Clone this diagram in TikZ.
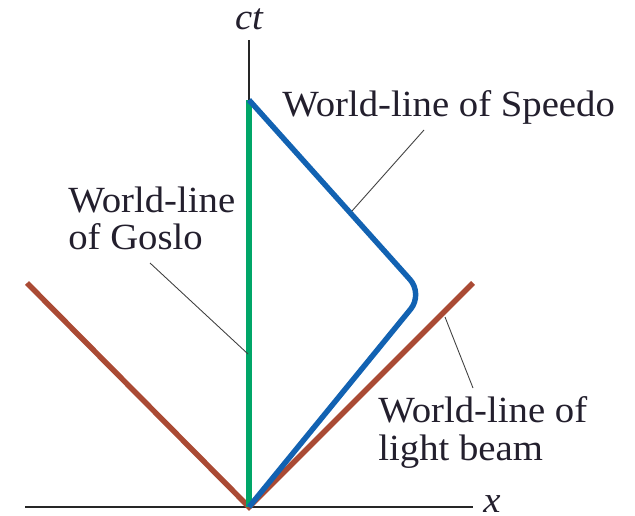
\documentclass[tikz,border=0pt]{standalone}
\usepackage{fontspec}
\setmainfont[FakeStretch=1.05]{Liberation Serif}
\usetikzlibrary{positioning,calc}
\definecolor{speedo}{RGB}{18,98,178}
\definecolor{goslo}{RGB}{0,166,104}
\definecolor{beam}{RGB}{170,74,52}
\definecolor{ink}{RGB}{35,31,45}

\begin{document}
\begin{tikzpicture}[x=0.02cm, y=-0.02cm,
  wl/.style={line width=3.1pt, #1},
  axis/.style={line width=1.1pt, black!85},
  lead/.style={line width=0.5pt, black!75},
  lbl/.style={inner sep=0pt, text=ink, font=\fontsize{21}{21}\selectfont, align=left}
]
  \useasboundingbox (0,0) rectangle (635,516);
  % origin, axes
  \coordinate (O) at (249,507);
  \coordinate (xend) at (473,507);
  \coordinate (ctend) at (249,40);
  \draw[axis] (25,507) -- (xend);
  \draw[axis] (O) -- (ctend);
  \node[lbl, font=\fontsize{21}{21}\selectfont\itshape, anchor=base] (ct) at (249,30) {ct};
  \node[lbl, font=\fontsize{21}{21}\selectfont\itshape, anchor=west] (x) at (483,504) {x};
  % world-lines
  \coordinate (bl) at (27,283);
  \coordinate (br) at (473,283);
  \coordinate (top) at (249,100);
  \coordinate (turn) at (423,294);
  \draw[wl=beam] (bl) -- (O) -- (br);
  \draw[wl=goslo] (O) -- (top);
  \draw[wl=speedo, rounded corners=11pt] (top) -- (turn) -- (O);
  % labels
  \node[lbl, anchor=base west] (speedo) at (282,117) {World-line of Speedo};
  \node[lbl, anchor=base west] (goslo1) at (68,213) {World-line};
  \node[lbl, anchor=base west] (goslo2) at (68,250) {of Goslo};
  \node[lbl, anchor=base west] (beam1) at (378,422) {World-line of};
  \node[lbl, anchor=base west] (beam2) at (378,460) {light beam};
  % leaders
  \coordinate (ps) at (352,211);
  \coordinate (pg) at (248,354);
  \coordinate (pb) at (445,317);
  \draw[lead] (424,130) -- (ps);
  \draw[lead] (150,263) -- (pg);
  \draw[lead] (473,388) -- (pb);
\end{tikzpicture}
\end{document}
